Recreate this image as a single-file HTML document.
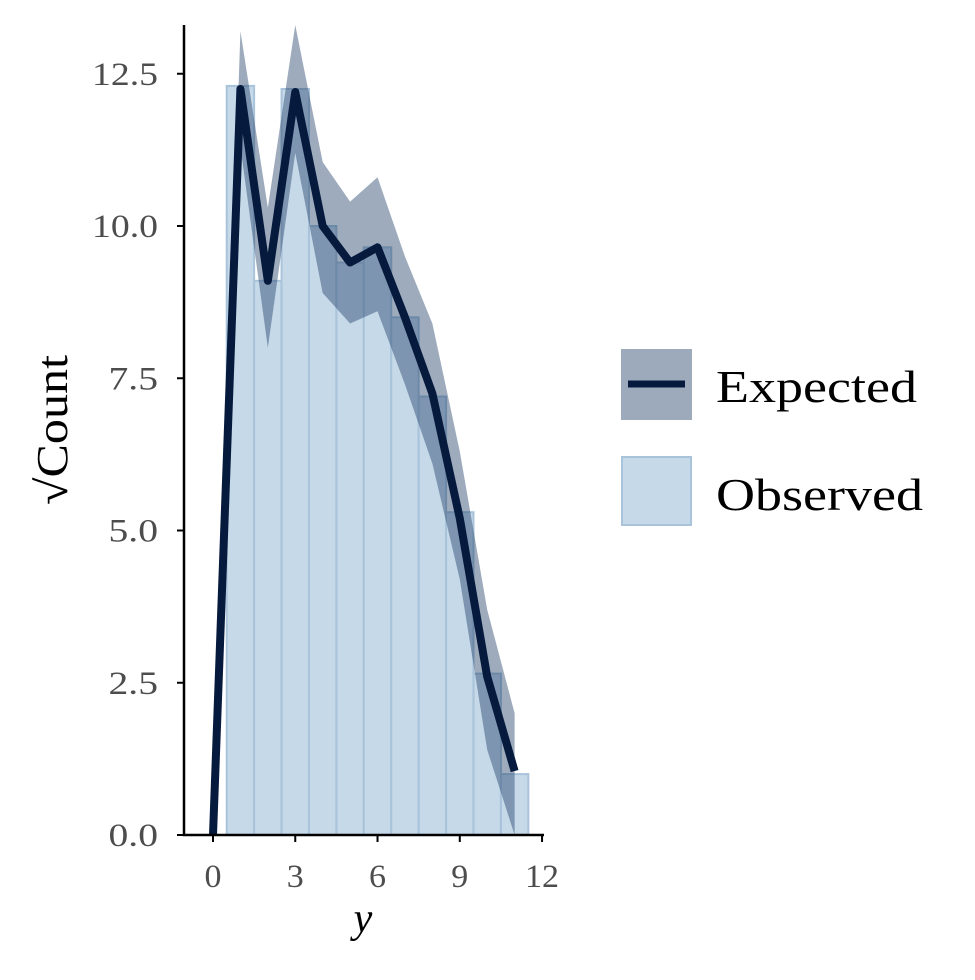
<!DOCTYPE html>
<html><head><meta charset="utf-8"><style>
body{margin:0;background:#fff}
svg text{font-family:"Liberation Serif",serif}
</style></head><body>
<svg id="c" width="975" height="975" xmlns="http://www.w3.org/2000/svg"></svg>
<script>
const xs=[0,1,2,3,4,5,6,7,8,9,10,11];
const observed=[0,12.3,9.1,12.25,10.0,9.4,9.65,8.5,7.2,5.3,2.65,1.0];
const expected=[0,12.25,9.1,12.2,10.0,9.4,9.65,8.5,7.25,5.2,2.6,1.05];
const upper=[0,13.2,10.3,13.3,11.05,10.4,10.8,9.5,8.4,6.3,3.7,2.0];
const lower=[0,11.3,8.0,11.2,8.9,8.4,8.6,7.4,6.1,4.2,1.4,0.0];
const xTicks=[0,3,6,9,12];
const yTicks=[0,2.5,5,7.5,10,12.5];
const yTickLabels=["0.0","2.5","5.0","7.5","10.0","12.5"];
const X=v=>213+v*27.42, Y=v=>835-v*60.9;
const svg=document.getElementById('c');const NS='http://www.w3.org/2000/svg';
function mk(t,a,p){const e=document.createElementNS(NS,t);for(const k in a)e.setAttribute(k,a[k]);(p||svg).appendChild(e);return e;}
const gb=mk('g',{});


xs.forEach((x,i)=>{if(observed[i]<=0)return;
 const r=mk('rect',{x:X(x-0.5),y:Y(observed[i]),width:27.42,height:Y(0)-Y(observed[i]),fill:'#c5d9e8',stroke:'#a9c3da','stroke-width':2},gb);
 
 });
let d='M'+xs.map((x,i)=>X(x)+','+Y(upper[i])).join('L')+'L'+xs.slice().reverse().map(x=>X(x)+','+Y(lower[x])).join('L')+'Z';
const rib=mk('path',{d:d,fill:'#1f3d66','fill-opacity':0.43});


const ln=mk('polyline',{points:xs.map((x,i)=>X(x)+','+Y(expected[i])).join(' '),fill:'none',stroke:'#061a3d','stroke-width':8,'stroke-linejoin':'round'});


const ax=mk('path',{d:'M184,25V835H544',fill:'none',stroke:'#000','stroke-width':2.5});


yTicks.forEach((v,i)=>{mk('line',{x1:177,x2:184,y1:Y(v),y2:Y(v),stroke:'#000','stroke-width':2});
 const s=yTickLabels[i];
 const t=mk('text',{x:158,y:Y(v)+11,'text-anchor':'end','font-size':33,fill:'#4d4d4d',textLength:s.length*16.5,lengthAdjust:'spacingAndGlyphs'});t.textContent=s;
 
 });
xTicks.forEach(v=>{mk('line',{x1:X(v),x2:X(v),y1:835,y2:842,stroke:'#000','stroke-width':2});
 const s=String(v);
 const t=mk('text',{x:X(v),y:887,'text-anchor':'middle','font-size':33,fill:'#4d4d4d',textLength:s.length*17,lengthAdjust:'spacingAndGlyphs'});t.textContent=s;
 
 });
</script>
<svg style="position:absolute;left:0;top:0" width="975" height="975" xmlns="http://www.w3.org/2000/svg">
<text x="363" y="932" text-anchor="middle" font-size="42" font-style="italic" font-family="Liberation Serif">y</text>
<text transform="translate(67,430) rotate(-90)" text-anchor="middle" font-size="44" font-family="Liberation Serif" textLength="150" lengthAdjust="spacingAndGlyphs">√Count</text>
<g>
<rect x="621" y="349" width="71" height="71" fill="#9daabb"/>
<line x1="628" y1="384" x2="685" y2="384" stroke="#061a3d" stroke-width="7"/>
<text x="716" y="402" font-size="46" font-family="Liberation Serif" textLength="201" lengthAdjust="spacingAndGlyphs">Expected</text></g>
<g>
<rect x="622" y="457" width="69" height="68" fill="#c5d9e8" stroke="#a9c3da" stroke-width="2"/>
<text x="716" y="510" font-size="46" font-family="Liberation Serif" textLength="207" lengthAdjust="spacingAndGlyphs">Observed</text></g>
</svg>
</body></html>
